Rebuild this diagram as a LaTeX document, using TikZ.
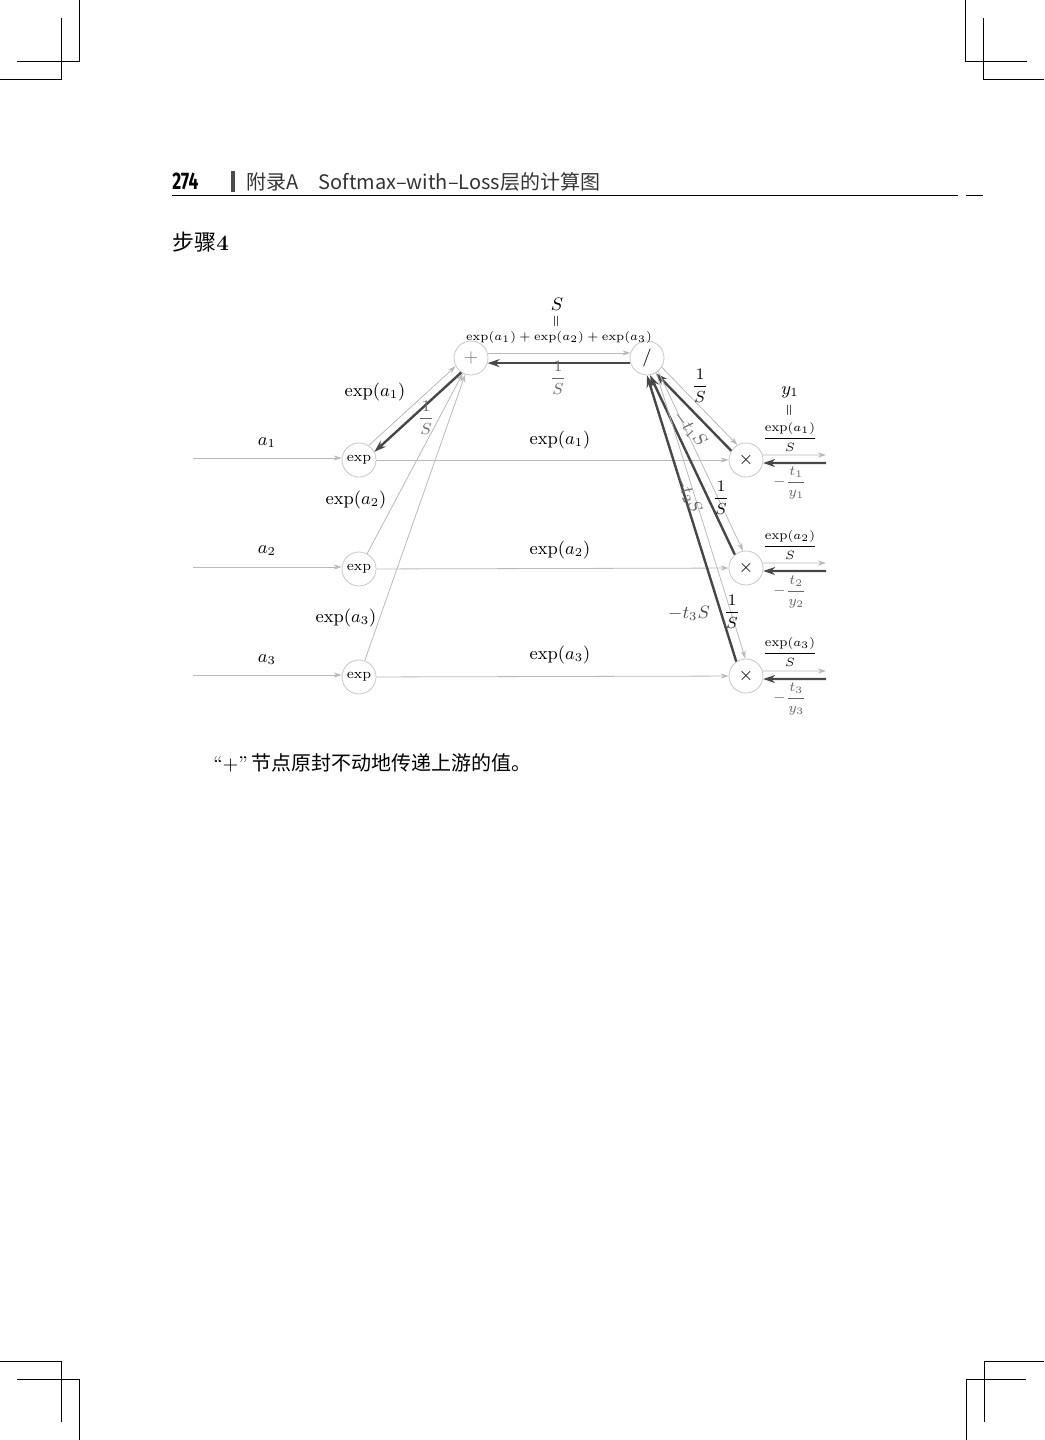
\documentclass[tikz,border=0pt]{standalone}
\usepackage{fontspec}
\usepackage{amsmath}
\usepackage{graphicx}
\usetikzlibrary{arrows.meta}

\newfontfamily\cjk{Noto Sans CJK SC}
\newfontfamily\pagenumfont{Fira Sans}

\tikzset{
  op/.style={circle, draw=gray!45, line width=0.4pt, minimum size=17pt,
             inner sep=0pt},
  fwd/.style={draw=gray!55, line width=0.4pt,
              -{Stealth[length=4pt,width=2.6pt]}},
  bwd/.style={draw=black!72, line width=1.2pt,
              -{Stealth[length=6pt,width=4pt]}},
  val/.style={font=\small, inner sep=1pt},
  grad/.style={font=\footnotesize, inner sep=1pt, text=black!60},
  cropmark/.style={line width=0.5pt},
}

\begin{document}
\begin{tikzpicture}[x=0.5pt, y=-0.5pt]
\useasboundingbox (0,0) rectangle (1044,1440);

% crop marks
\draw[cropmark] (79,0) -- (79,61) -- (17,61);
\draw[cropmark] (61,18) -- (61,79) -- (0,79);
\draw[cropmark] (965,0) -- (965,61) -- (1027,61);
\draw[cropmark] (983,18) -- (983,79) -- (1044,79);
\draw[cropmark] (0,1361) -- (61,1361) -- (61,1422);
\draw[cropmark] (17,1379) -- (79,1379) -- (79,1440);
\draw[cropmark] (1044,1361) -- (984,1361) -- (984,1422);
\draw[cropmark] (1026,1379) -- (966,1379) -- (966,1440);

% running head
\node[anchor=base west, inner sep=0pt, font=\pagenumfont\bfseries\fontsize{12}{12}\selectfont]
  (pagenum) at (172,189) {\scalebox{0.72}[1]{274}};
\draw[black!70, line width=1.6pt] (233,171) -- (233,192);
\node[anchor=base west, inner sep=0pt, text=black!80, font=\cjk\fontsize{10}{10}\selectfont]
  (headtitle) at (246,189) {附录A\quad Softmax–with–Loss层的计算图};
\draw[line width=0.5pt] (172,195) -- (958,195);
\draw[line width=0.5pt] (966,195) -- (983,195);

\node[anchor=base west, inner sep=0pt, font=\fontsize{11}{11}\selectfont]
  (steptitle) at (172,250) {{\cjk 步骤}\textbf{4}};

% nodes
\node[op, font=\small, text=black!50] (plus) at (471,358) {$+$};
\node[op, font=\small] (div) at (647,358) {$/$};
\node[op, font=\scriptsize] (exp1) at (359,460) {exp};
\node[op, font=\scriptsize] (exp2) at (359,569) {exp};
\node[op, font=\scriptsize] (exp3) at (359,677) {exp};
\node[op, font=\small] (mul1) at (746,460) {$\times$};
\node[op, font=\small] (mul2) at (746,568) {$\times$};
\node[op, font=\small] (mul3) at (746,676) {$\times$};

\coordinate (in1) at (193,458);
\coordinate (in2) at (193,567);
\coordinate (in3) at (193,675);
\coordinate (out1) at (826,455);
\coordinate (out2) at (826,563);
\coordinate (out3) at (826,671);
\coordinate (back1) at (826,463);
\coordinate (back2) at (826,571);
\coordinate (back3) at (826,679);

% inputs
\draw[fwd] (in1) -- (exp1.west |- in1);
\draw[fwd] (in2) -- (exp2.west |- in2);
\draw[fwd] (in3) -- (exp3.west |- in3);
\node[val] (la1) at (267,443) {$a_1$};
\node[val] (la2) at (267,551) {$a_2$};
\node[val] (la3) at (267,660) {$a_3$};

% exp -> plus
\draw[fwd] (exp1.56) -- (plus.208);
\draw[bwd] (plus.236) -- (exp1.28);
\draw[fwd] (exp2) -- (plus);
\draw[fwd] (exp3) -- (plus);
\node[val] (le1) at (375,392) {$\exp(a_1)$};
\node[val] (le2) at (356,500) {$\exp(a_2)$};
\node[val] (le3) at (346,618) {$\exp(a_3)$};
\node[grad] (gp) at (426,418) {$\dfrac{1}{S}$};

% exp -> times
\draw[fwd] (exp1) -- (mul1);
\draw[fwd] (exp2) -- (mul2);
\draw[fwd] (exp3) -- (mul3);
\node[val] (lm1) at (560,440) {$\exp(a_1)$};
\node[val] (lm2) at (560,550) {$\exp(a_2)$};
\node[val] (lm3) at (560,655) {$\exp(a_3)$};

% plus <-> div
\draw[fwd] (plus.17) -- (div.163);
\draw[bwd] (div.197) -- (plus.343);
\node[val] (sumS) at (557,304) {$S$};
\node[inner sep=0pt] (sumeq) at (557,321) {\rotatebox{90}{\scriptsize$=$}};
\node[font=\fontsize{6}{7}\selectfont, inner sep=1pt] (sum) at (559,337)
  {$\exp(a_1)+\exp(a_2)+\exp(a_3)$};
\node[grad] (gd) at (558,378) {$\dfrac{1}{S}$};

% div <-> times
\draw[fwd] (div.-32) -- (mul1.120);
\draw[bwd] (mul1.148) -- (div.-60);
\draw[fwd] (div.-50) -- (mul2.100);
\draw[bwd] (mul2.130) -- (div.-80);
\draw[fwd] (div.-58) -- (mul3.92);
\draw[bwd] (mul3.124) -- (div.-90);
\node[font=\footnotesize, inner sep=1pt] (g1) at (700,386) {$\dfrac{1}{S}$};
\node[font=\footnotesize, inner sep=1pt] (g2) at (721,498) {$\dfrac{1}{S}$};
\node[font=\footnotesize, inner sep=1pt] (g3) at (732,612) {$\dfrac{1}{S}$};
\node[val, text=black!60, rotate=-50, inner sep=0pt] (t1S) at (690,429) {$-t_1S$};
\node[val, text=black!60, rotate=-64, inner sep=0pt] (t2S) at (688,494) {$-t_2S$};
\node[val, text=black!70] (t3S) at (689,613) {$-t_3S$};

% outputs
\draw[fwd] (mul1.17) -- (out1);
\draw[fwd] (mul2.17) -- (out2);
\draw[fwd] (mul3.17) -- (out3);
\draw[bwd] (back1) -- (mul1.-10);
\draw[bwd] (back2) -- (mul2.-10);
\draw[bwd] (back3) -- (mul3.-10);
\node[val] (y1) at (790,392) {$y_1$};
\node[inner sep=0pt] (y1eq) at (790,410) {\rotatebox{90}{\scriptsize$=$}};
\node[font=\fontsize{6.5}{7}\selectfont, inner sep=1pt] (f1) at (790,437) {$\dfrac{\exp(a_1)}{S}$};
\node[font=\fontsize{6.5}{7}\selectfont, inner sep=1pt] (f2) at (790,545) {$\dfrac{\exp(a_2)}{S}$};
\node[font=\fontsize{6.5}{7}\selectfont, inner sep=1pt] (f3) at (790,652) {$\dfrac{\exp(a_3)}{S}$};
\node[grad, font=\scriptsize] (ty1) at (790,483) {$-\dfrac{t_1}{y_1}$};
\node[grad, font=\scriptsize] (ty2) at (790,592) {$-\dfrac{t_2}{y_2}$};
\node[grad, font=\scriptsize] (ty3) at (790,699) {$-\dfrac{t_3}{y_3}$};

% caption
\node[anchor=base west, inner sep=0pt, font=\fontsize{10}{10}\selectfont]
  (caption) at (213,770) {“+”\,{\cjk 节点原封不动地传递上游的值。}};
\end{tikzpicture}
\end{document}
